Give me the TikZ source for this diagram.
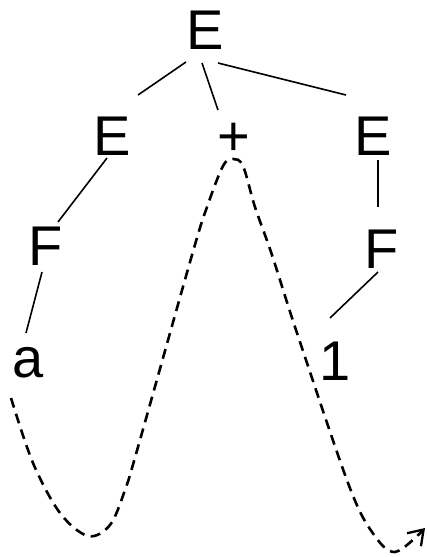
\documentclass[tikz,border=0pt]{standalone}
\usepackage{fontspec}
\setmainfont{Liberation Sans}
\usetikzlibrary{calc,arrows.meta}
\begin{document}
\begin{tikzpicture}[x=1pt,y=-1pt,
  sym/.style={inner sep=0pt,text height=40pt,text depth=0pt,font=\fontsize{56}{60}\selectfont},
  edge/.style={line width=1.6pt},
  walk/.style={line width=2.6pt,dash pattern=on 10pt off 6.5pt}]
\useasboundingbox (0,0) rectangle (427,557);
\node[sym] (Etop) at (205,29) {E};
\node[sym] (Eleft) at (112,135) {E};
\node[sym] (plus) at (234,135) {+};
\node[sym] (Eright) at (373,135) {E};
\node[sym] (Fl) at (46,245) {F};
\node[sym] (Fr) at (382,248) {F};
\node[sym] (a) at (28,357) {a};
\node[sym] (one) at (335,360) {1};
\draw[edge] ($(Etop)+(-19,33)$) -- ($(Eleft)+(26,-40)$);
\draw[edge] ($(Etop)+(-3,34)$) -- ($(plus)+(-16,-25)$);
\draw[edge] ($(Etop)+(13,34)$) -- ($(Eright)+(-27,-40)$);
\draw[edge] ($(Eleft)+(-5,23)$) -- ($(Fl)+(12,-23)$);
\draw[edge] ($(Fl)+(-4,27)$) -- ($(a)+(-2,-24)$);
\draw[edge] ($(Eright)+(5,25)$) -- ($(Fr)+(-4,-41)$);
\draw[edge] ($(Fr)+(-4,24)$) -- ($(one)+(-5,-42)$);
\draw[walk,-{Straight Barb[length=14pt,width=19pt,line width=2.3pt]}]
  plot[smooth,tension=0.55] coordinates {
  (11,398) (33,463) (60,513) (88,536) (110,525) (125,490) (138,447)
  (192,255) (207,207) (223,166) (233,159) (243,166) (255,207) (272,255)
  (297,333) (348,483) (372,532) (395,552) (425,528)};
\end{tikzpicture}
\end{document}
